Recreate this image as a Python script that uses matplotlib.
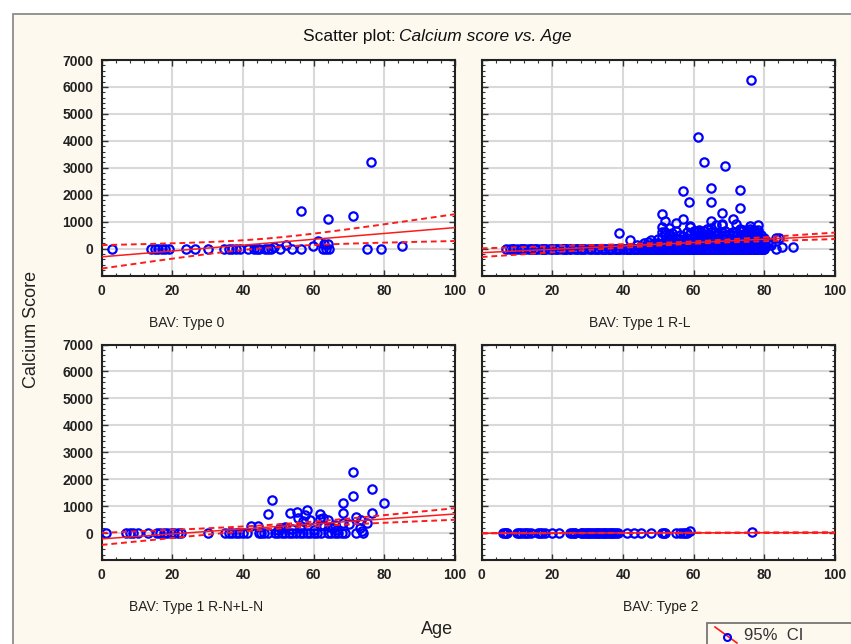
import numpy as np
import matplotlib.pyplot as plt
from matplotlib.patches import Rectangle
from matplotlib.lines import Line2D
from matplotlib.ticker import MultipleLocator

plt.rcParams['font.family'] = ['Liberation Sans', 'DejaVu Sans']

# ---- data (age, calcium score) per BAV type ----
# Type 0
t0_age = [3, 14, 15, 16, 17, 18, 19, 24, 26.4, 30.2, 34.7, 36, 37, 38, 39.2, 41.3, 43, 44, 44.5,
          46.2, 47, 48, 48.9, 50.5, 52.1, 54, 56.3, 56.3, 59.9, 61.3, 62.5, 63, 63.5, 64, 64.2, 64,
          71.2, 76.2, 75, 79, 85.1]
t0_score = [0, 0, 0, 0, 0, 0, 0, 0, 0, 0, 0, 0, 0, 0, 0, 0, 0, 0, 0, 0, 0, 0,
            60, 0, 150, 0, 0, 1400, 90, 285, 0, 160, 0, 160, 0, 1100, 1200, 3210, 0, 0, 90]

# Type 1 R-L : patients with score 0 (age, count)
rl_zero_age = [7, 8, 9, 10, 11, 12, 13, 14, 15, 16, 17, 18, 19,
               20, 21, 22, 23, 24, 25, 26, 27, 28, 29, 30, 31, 32, 33, 34,
               35, 36, 37, 38, 39, 40, 41, 42, 43, 44,
               45, 46, 47, 48, 49, 50, 51, 52, 53, 54, 55, 56, 57, 58, 59,
               60, 61, 62, 63, 64, 65, 66, 67, 68, 69, 70, 71, 72, 73, 74,
               75, 76, 77, 78, 79, 80]
rl_zero_count = [1, 1, 2, 1, 2, 2, 1, 2, 2, 1, 2, 2, 1,
                 2, 2, 1, 2, 2, 2, 1, 2, 2, 2, 1, 2, 2, 2, 2,
                 2, 3, 2, 3, 3, 2, 3, 3, 3, 3,
                 4, 4, 5, 5, 6, 6, 6, 6, 7, 7, 7, 7, 7, 7, 7,
                 7, 7, 7, 7, 7, 7, 7, 6, 6, 6, 6, 6, 6, 5, 5,
                 5, 5, 4, 4, 3, 2]
# Type 1 R-L : low / moderate scores
rl_mid_age = [44, 45, 46, 46, 47, 47, 48, 48, 49, 49,
              50, 50, 50, 51, 51, 51, 52, 52, 52, 53,
              53, 53, 54, 54, 54, 55, 55, 55, 56, 56,
              56, 57, 57, 57, 58, 58, 58, 59, 59, 59,
              60, 60, 60, 60, 61, 61, 61, 61, 62, 62,
              62, 62, 63, 63, 63, 63, 64, 64, 64, 64,
              65, 65, 65, 65, 66, 66, 66, 66, 67, 67,
              67, 67, 68, 68, 68, 68, 69, 69, 69, 69,
              70, 70, 70, 70, 71, 71, 71, 71, 72, 72,
              72, 72, 73, 73, 73, 73, 74, 74, 74, 74,
              75, 75, 75, 75, 76, 76, 76, 76, 77, 77,
              77, 77, 78, 78, 78, 78, 79, 79, 79, 79,
              80, 80, 80, 81, 81, 82, 58, 63, 66, 70,
              55, 57, 60, 62, 64, 67, 69, 71, 73, 75,
              52, 54, 59, 61, 65, 68, 72, 74, 76, 78,
              50, 53, 56, 58, 62, 66, 70, 73, 77, 79]
rl_mid_score = [120, 80, 200, 60, 150, 250, 100, 300, 180, 90,
                350, 220, 100, 420, 180, 600, 250, 500, 120, 380,
                200, 550, 300, 150, 450, 400, 250, 650, 350, 180,
                500, 300, 120, 450, 250, 600, 380, 200, 550, 150,
                400, 250, 650, 180, 500, 320, 120, 600, 450, 280,
                600, 150, 350, 500, 220, 650, 400, 280, 550, 180,
                450, 300, 600, 150, 500, 350, 250, 620, 400, 200,
                550, 300, 450, 250, 600, 150, 500, 350, 650, 200,
                400, 280, 550, 150, 500, 350, 620, 200, 450, 300,
                600, 180, 500, 350, 250, 650, 400, 280, 550, 150,
                450, 300, 600, 200, 500, 350, 650, 250, 400, 550,
                300, 180, 450, 600, 250, 350, 500, 200, 400, 150,
                300, 150, 400, 200, 250, 150, 80, 60, 90, 70,
                50, 40, 70, 90, 50, 80, 60, 100, 50, 80,
                600, 560, 820, 640, 760, 870, 900, 700, 840, 610,
                30, 60, 40, 90, 30, 60, 40, 100, 80, 60]
# Type 1 R-L : high scores
rl_high_age = [76.2, 61.1, 63, 68.9, 65, 56.9, 73.1, 58.8, 65, 73.1,
               68, 51, 52, 57, 55.1, 50.9, 53.1, 59, 61.5, 63.7,
               64.8, 66.2, 68, 71.2, 71.2, 73.1, 75, 76, 77.1, 78.1,
               78.1, 38.9, 42, 48.8, 83.2, 84.1, 83.2, 85.1, 88, 80.4]
rl_high_score = [6250, 4150, 3220, 3075, 2230, 2130, 2170, 1720, 1720, 1510,
                 1310, 1265, 1025, 1100, 965, 805, 780, 805, 700, 740,
                 1025, 890, 900, 1100, 615, 715, 580, 740, 680, 890,
                 680, 560, 310, 225, 410, 410, 0, 60, 60, 100]

# Type 1 R-N+L-N
rn_zero_age = [1.2, 7, 8, 9, 10.2, 13.2, 15.6, 16.5, 17.5, 18.5, 19.5, 20.5, 21.5, 22.5,
               30, 35, 36, 37, 38, 39, 40, 41, 44.5, 45, 46, 47, 49, 50, 51, 52, 53, 54,
               55, 56, 57, 58, 59, 60, 61, 62, 64, 65, 66, 67, 68, 69, 72, 74]
rn_age = [42.2, 44.1, 47, 48.1, 50, 51, 52, 53.3, 54, 55.2,
          55.5, 56, 57, 57.5, 58.2, 59, 60, 61.8, 61.8, 62.7,
          64.1, 64.6, 65.5, 66.6, 68.4, 68.4, 68.2, 71.2, 71.2, 71.9,
          73.3, 73, 73.7, 75.1, 76.4, 76.4, 80, 50.5, 56.5, 62,
          63, 66, 70]
rn_score = [272, 272, 716, 1210, 120, 200, 230, 742, 150, 767,
            557, 200, 430, 680, 865, 470, 100, 716, 530, 550,
            470, 220, 185, 120, 1113, 742, 370, 2250, 1360, 595,
            500, 180, 60, 370, 1645, 742, 1113, 180, 250, 300,
            250, 300, 350]

# Type 2
t2_age = [6, 6.5, 7, 7.3, 10, 10.5, 11, 12, 12.5, 13, 14, 16, 16.5, 17, 18, 20, 22,
          25, 25.5, 26, 26.5, 28, 28.5, 29, 29.5, 30, 30.5, 31, 31.5, 32, 32.5, 33, 33.5,
          34, 34.5, 35, 35.5, 36, 36.5, 37, 37.5, 38, 38.5, 41, 43, 45, 48, 51, 51.5, 52,
          55, 56, 57, 57.5, 58, 59, 76.5]
t2_score = [0] * 55 + [85, 25]

titles = ['BAV: Type 0', 'BAV: Type 1 R-L', 'BAV: Type 1 R-N+L-N', 'BAV: Type 2']

# ---- layout helpers (pixel -> figure fraction) ----
W, H = 851, 644


def fx(x):
    return x / W


def fy(y):
    return 1 - y / H


def fit_ci(x, y, xs):
    x = np.asarray(x, float)
    y = np.asarray(y, float)
    n = len(x)
    b, a = np.polyfit(x, y, 1)
    s = np.sqrt(np.sum((y - (a + b * x)) ** 2) / (n - 2))
    t = 1.96 + 2.4 / (n - 2)
    se = s * np.sqrt(1 / n + (xs - x.mean()) ** 2 / np.sum((x - x.mean()) ** 2))
    yf = a + b * xs
    return yf, yf - t * se, yf + t * se


bg = '#fdf9ee'
fig = plt.figure(figsize=(8.51, 6.44), dpi=100, facecolor='white')
fig.patches.append(Rectangle((fx(13), -0.1), 1.2, fy(14) + 0.1, transform=fig.transFigure,
                             facecolor=bg, edgecolor='#8c8c8c', lw=1.3, zorder=-5))

panel_data = [
    (t0_age, t0_score),
    (list(np.repeat(rl_zero_age, rl_zero_count)) + rl_mid_age + rl_high_age,
     [0] * int(np.sum(rl_zero_count)) + rl_mid_score + rl_high_score),
    (rn_zero_age + rn_age, [0] * len(rn_zero_age) + rn_score),
    (t2_age, t2_score),
]

lefts = [101.7, 481.7, 101.7, 481.7]
bottoms = [275.5, 275.5, 560, 560]
label_pos = [(187, 323), (640, 323), (196, 607), (661, 607)]

xs = np.linspace(0, 100, 201)
for i, (ages, scores) in enumerate(panel_data):
    ax = fig.add_axes([fx(lefts[i]), fy(bottoms[i]), 353.3 / W, 215.5 / H])
    ax.set_zorder(1)
    ax.set_facecolor('white')
    ax.set_xlim(0, 100)
    ax.set_ylim(-1000, 7000)
    ax.set_xticks(range(0, 101, 20))
    ax.set_yticks(range(0, 7001, 1000))
    ax.xaxis.set_minor_locator(MultipleLocator(4))
    ax.yaxis.set_minor_locator(MultipleLocator(200))
    ax.grid(True, which='major', color='#d9d9d9', lw=1.5)
    ax.set_axisbelow(True)
    ax.tick_params(which='both', direction='in', top=True, right=True, color='#333333')
    ax.tick_params(which='major', length=4, width=1)
    ax.tick_params(which='minor', length=2.5, width=0.8)
    ax.tick_params(labelsize=10, labelcolor='#222222', pad=6)
    for lab in ax.get_xticklabels() + ax.get_yticklabels():
        lab.set_fontweight('bold')
    if i % 2 == 1:
        ax.tick_params(labelleft=False)
    for sp in ax.spines.values():
        sp.set_linewidth(1.5)
        sp.set_color('#222222')

    ax.plot(ages, scores, 'o', mfc='none', mec='#0000ff', ms=6, mew=1.6, zorder=3)
    yf, lo, hi = fit_ci(ages, scores, xs)
    ax.plot(xs, yf, color='#ff1a1a', lw=1.1, zorder=4)
    ax.plot(xs, lo, color='#ff1a1a', lw=1.4, ls=(0, (3, 2)), zorder=4)
    ax.plot(xs, hi, color='#ff1a1a', lw=1.4, ls=(0, (3, 2)), zorder=4)

    fig.text(fx(label_pos[i][0]), fy(label_pos[i][1]), titles[i], ha='center', va='center',
             fontsize=10, color='#222222')

# titles and axis labels
fig.text(fx(396), fy(37), 'Scatter plot:', ha='right', va='center', fontsize=12.5, color='#111111')
fig.text(fx(399), fy(37), 'Calcium score vs. Age', ha='left', va='center', fontsize=12.5,
         style='italic', color='#111111')
fig.text(fx(32), fy(329), 'Calcium Score', rotation=90, ha='center', va='center', fontsize=13,
         color='#222222')
fig.text(fx(437), fy(630), 'Age', ha='center', va='center', fontsize=13, color='#222222')

# legend (partly outside the window)
fig.patches.append(Rectangle((fx(707), -0.1), 0.5, fy(623) + 0.1, transform=fig.transFigure,
                             facecolor=bg, edgecolor='#777777', lw=1.3, zorder=5))
fig.lines.append(Line2D([fx(715), fx(737)], [fy(627), fy(643)], transform=fig.transFigure,
                        color='#ff1a1a', lw=1.2, zorder=6))
fig.lines.append(Line2D([fx(727)], [fy(637)], transform=fig.transFigure, marker='o', mfc='none',
                        mec='#0000ff', ms=5, mew=1.5, zorder=7))
fig.text(fx(744), fy(636), '95%  CI', ha='left', va='center', fontsize=12, color='#333333',
         zorder=8)

fig.savefig('out.png', dpi=100, facecolor='white')
